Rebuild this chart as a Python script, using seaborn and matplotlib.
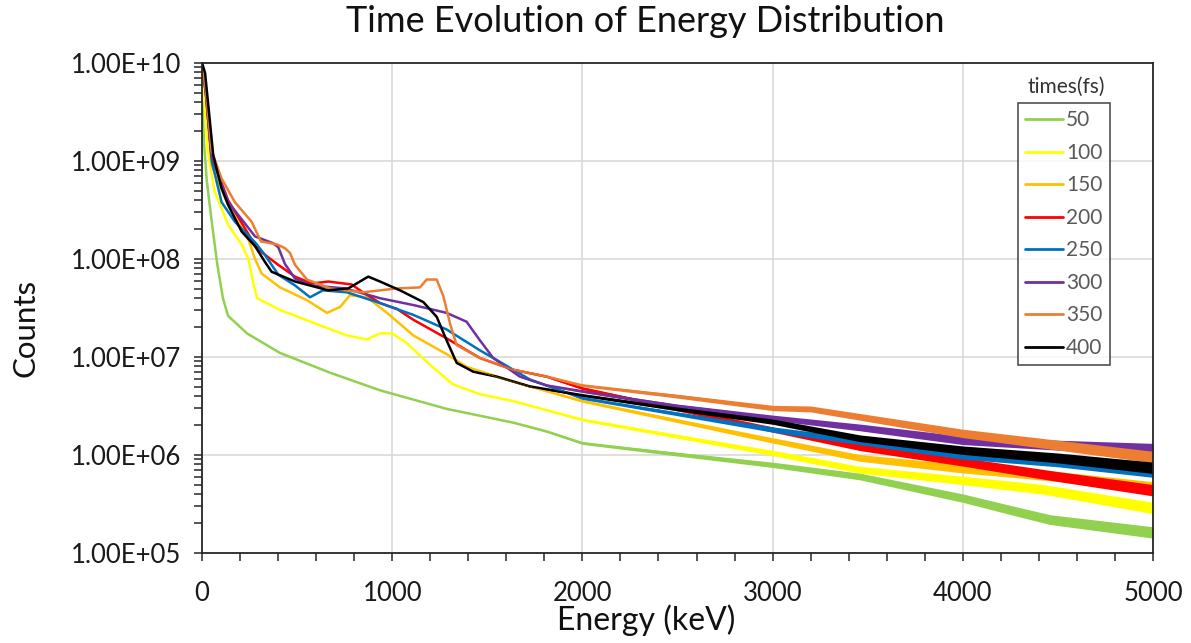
import matplotlib
matplotlib.use("Agg")
import matplotlib.pyplot as plt
from matplotlib.ticker import FixedLocator, MultipleLocator, LogLocator, FuncFormatter, NullFormatter
import seaborn as sns
import pandas as pd
import numpy as np

# Energy spectra (keV, counts) recorded at successive times after the pulse
times_fs = ["50", "100", "150", "200", "250", "300", "350", "400"]
colors = ["#92D050", "#FFFF00", "#FFC000", "#FF0000", "#0070C0", "#7030A0", "#ED7D31", "#000000"]

energy_50 = [0, 10, 25, 50, 80, 110, 137, 237, 410, 673, 936, 1288, 1636, 1812, 2000, 2500,
             3000, 3460, 4000, 4290, 4460, 5000]
counts_50 = [5.62e9, 1.58e9, 6.31e8, 2.51e8, 8.91e7, 3.98e7, 2.63e7, 1.74e7, 1.10e7, 6.92e6,
             4.57e6, 2.95e6, 2.14e6, 1.74e6, 1.32e6, 1.02e6, 7.94e5, 6.03e5, 3.63e5, 2.63e5,
             2.19e5, 1.62e5]

energy_100 = [0, 30, 65, 137, 208, 244, 270, 290, 410, 584, 762, 867, 936, 1000, 1078, 1199,
              1320, 1462, 1636, 2000, 2500, 3000, 3460, 4000, 4420, 5000]
counts_100 = [1.0e10, 1.26e9, 5.01e8, 2.24e8, 1.41e8, 1.0e8, 5.62e7, 3.98e7, 3.02e7, 2.24e7,
              1.66e7, 1.51e7, 1.74e7, 1.74e7, 1.38e7, 8.32e6, 5.25e6, 4.17e6, 3.55e6, 2.29e6,
              1.55e6, 1.05e6, 7.08e5, 5.50e5, 4.47e5, 2.88e5]

energy_150 = [0, 20, 50, 137, 244, 279, 314, 410, 552, 657, 726, 778, 867, 973, 1111, 1286,
              1391, 1549, 1724, 2000, 2500, 3000, 3460, 4000, 4500, 5000]
counts_150 = [1.0e10, 5.0e9, 9.12e8, 3.55e8, 1.58e8, 1.0e8, 7.08e7, 5.13e7, 3.80e7, 2.82e7,
              3.24e7, 4.27e7, 4.07e7, 2.82e7, 1.66e7, 1.07e7, 7.94e6, 6.31e6, 5.01e6, 3.55e6,
              2.24e6, 1.41e6, 9.33e5, 7.24e5, 6.03e5, 4.68e5]

energy_200 = [0, 20, 50, 137, 261, 314, 401, 489, 577, 664, 786, 846, 936, 1025, 1111, 1286,
              1461, 1636, 1812, 2000, 2500, 3000, 3460, 4000, 4500, 5000]
counts_200 = [1.0e10, 5.0e9, 1.12e9, 3.98e8, 1.58e8, 1.17e8, 8.71e7, 6.61e7, 5.62e7, 5.89e7,
              5.50e7, 4.57e7, 3.55e7, 3.09e7, 2.40e7, 1.55e7, 9.77e6, 7.41e6, 6.31e6, 4.79e6,
              2.95e6, 1.82e6, 1.20e6, 8.51e5, 6.03e5, 4.37e5]

energy_250 = [0, 20, 51, 103, 173, 279, 331, 401, 489, 568, 636, 762, 936, 1111, 1286, 1461,
              1549, 1724, 2000, 2500, 3000, 3460, 4000, 4500, 5000]
counts_250 = [1.0e10, 5.0e9, 1.0e9, 3.80e8, 2.40e8, 1.48e8, 1.10e8, 6.92e7, 5.37e7, 4.07e7,
              4.79e7, 4.57e7, 3.55e7, 2.69e7, 1.91e7, 1.17e7, 9.33e6, 5.89e6, 3.80e6, 2.63e6,
              1.82e6, 1.38e6, 1.0e6, 8.51e5, 6.76e5]

energy_300 = [0, 20, 50, 138, 279, 373, 401, 436, 489, 577, 752, 936, 1111, 1286, 1391, 1461,
              1531, 1671, 1812, 2000, 2500, 3000, 3460, 4000, 4500, 5000]
counts_300 = [1.0e10, 5.0e9, 1.12e9, 3.80e8, 1.70e8, 1.45e8, 1.32e8, 8.91e7, 6.31e7, 5.37e7,
              5.01e7, 3.98e7, 3.39e7, 2.82e7, 2.29e7, 1.48e7, 9.77e6, 6.31e6, 5.13e6, 4.47e6,
              3.16e6, 2.40e6, 1.91e6, 1.41e6, 1.26e6, 1.15e6]

energy_350 = [0, 20, 51, 103, 173, 261, 310, 394, 436, 463, 489, 552, 673, 846, 1025, 1146,
              1181, 1234, 1269, 1304, 1339, 1461, 1636, 1812, 2000, 2500, 3000, 3200, 3460,
              4000, 4500, 5000]
counts_350 = [1.0e10, 5.5e9, 1.26e9, 6.61e8, 3.80e8, 2.40e8, 1.51e8, 1.41e8, 1.29e8, 1.15e8,
              8.71e7, 6.17e7, 5.01e7, 4.57e7, 5.01e7, 5.13e7, 6.17e7, 6.17e7, 4.17e7, 2.19e7,
              1.32e7, 9.77e6, 7.41e6, 6.31e6, 5.13e6, 3.98e6, 3.02e6, 2.95e6, 2.45e6, 1.66e6,
              1.26e6, 9.55e5]

energy_400 = [0, 16, 33, 59, 103, 138, 208, 279, 331, 366, 489, 664, 769, 874, 936, 1041, 1164,
              1234, 1286, 1339, 1426, 1549, 1724, 2000, 2500, 3000, 3460, 4000, 4500, 5000]
counts_400 = [1.0e10, 7.94e9, 3.72e9, 1.15e9, 5.25e8, 3.55e8, 1.91e8, 1.35e8, 9.33e7, 7.41e7,
              5.89e7, 4.79e7, 5.01e7, 6.61e7, 5.89e7, 4.79e7, 3.63e7, 2.57e7, 1.48e7, 8.71e6,
              7.08e6, 6.31e6, 5.01e6, 4.07e6, 2.95e6, 2.19e6, 1.48e6, 1.12e6, 9.33e5, 7.41e5]

# Counting-noise spread of the spectra (half-width, in decades) growing with energy
noise_energy = [0, 1400, 2000, 3000, 4000, 5000]
noise_halfwidth = [0.0, 0.0, 0.012, 0.027, 0.043, 0.058]

x_ticks = [0, 1000, 2000, 3000, 4000, 5000]
y_ticks = [1e5, 1e6, 1e7, 1e8, 1e9, 1e10]

spectra = {
    "50": (energy_50, counts_50),
    "100": (energy_100, counts_100),
    "150": (energy_150, counts_150),
    "200": (energy_200, counts_200),
    "250": (energy_250, counts_250),
    "300": (energy_300, counts_300),
    "350": (energy_350, counts_350),
    "400": (energy_400, counts_400),
}
frames = [pd.DataFrame({"Energy": e, "Counts": c, "time": t}) for t, (e, c) in spectra.items()]
df = pd.concat(frames, ignore_index=True)

sns.set_theme(style="white")
plt.rcParams["font.family"] = ["Lato", "DejaVu Sans"]

fig = plt.figure(figsize=(11.91, 6.43), dpi=100)
ax = fig.add_axes([202 / 1191, 1 - 553 / 643, 951 / 1191, 490 / 643])

sns.lineplot(data=df, x="Energy", y="Counts", hue="time", hue_order=times_fs,
             palette=colors, estimator=None, sort=False, linewidth=1.8, ax=ax)

# noisy band around each spectrum, stacked in the same order as the lines
for i, (t, color) in enumerate(zip(times_fs, colors)):
    e, c = spectra[t]
    e = np.asarray(e, dtype=float)
    c = np.asarray(c, dtype=float)
    spread = 10 ** np.interp(e, noise_energy, noise_halfwidth)
    ax.fill_between(e, c / spread, c * spread, color=color, linewidth=0, zorder=2 + i * 0.01)

ax.set_yscale("log")
ax.set_xlim(0, 5000)
ax.set_ylim(1e5, 1e10)

ax.xaxis.set_major_locator(FixedLocator(x_ticks))
ax.xaxis.set_minor_locator(MultipleLocator(200))
ax.yaxis.set_major_locator(FixedLocator(y_ticks))
ax.yaxis.set_minor_locator(LogLocator(base=10, subs=range(2, 10)))
ax.yaxis.set_major_formatter(FuncFormatter(lambda v, _: f"{v:.2E}"))
ax.yaxis.set_minor_formatter(NullFormatter())

ax.grid(True, which="major", color="#D9D9D9", linewidth=1.2)
ax.set_axisbelow(True)
for side in ["left", "bottom", "top", "right"]:
    ax.spines[side].set_visible(True)
    ax.spines[side].set_color("#262626")
    ax.spines[side].set_linewidth(1.3)

ax.tick_params(axis="both", which="both", direction="out", length=6, width=1.1,
               color="#262626", labelsize=18.5, labelcolor="#1a1a1a")
ax.tick_params(axis="y", which="both", left=True, pad=9)
ax.tick_params(axis="x", which="both", bottom=True, pad=14)

fig.text(645 / 1191, 1 - 22 / 643, "Time Evolution of Energy Distribution",
         ha="center", va="center", fontsize=26, color="#111111")
ax.set_xlabel("Energy (keV)", fontsize=23, color="#111111", va="center")
ax.set_ylabel("Counts", fontsize=22.5, color="#111111", va="center")
ax.xaxis.set_label_coords((646 - 202) / 951, (553 - 620) / 490)
ax.yaxis.set_label_coords((25 - 202) / 951, (553 - 328) / 490)

handles, labels = ax.get_legend_handles_labels()
leg = ax.legend(handles, labels, loc="upper left", bbox_to_anchor=(0.858, 0.918),
                frameon=True, fancybox=False, fontsize=15, labelcolor="#595959",
                handlelength=1.8, handletextpad=0.15, labelspacing=0.6,
                borderpad=0.35, borderaxespad=0)
leg.get_frame().set_edgecolor("#262626")
leg.get_frame().set_linewidth(1.2)
leg.set_zorder(10)
for line in leg.get_lines():
    line.set_linewidth(2.0)
fig.text(1066 / 1191, 1 - 87 / 643, "times(fs)", ha="center", va="center",
         fontsize=15, color="#333333")

fig.savefig("out.png", dpi=100)
